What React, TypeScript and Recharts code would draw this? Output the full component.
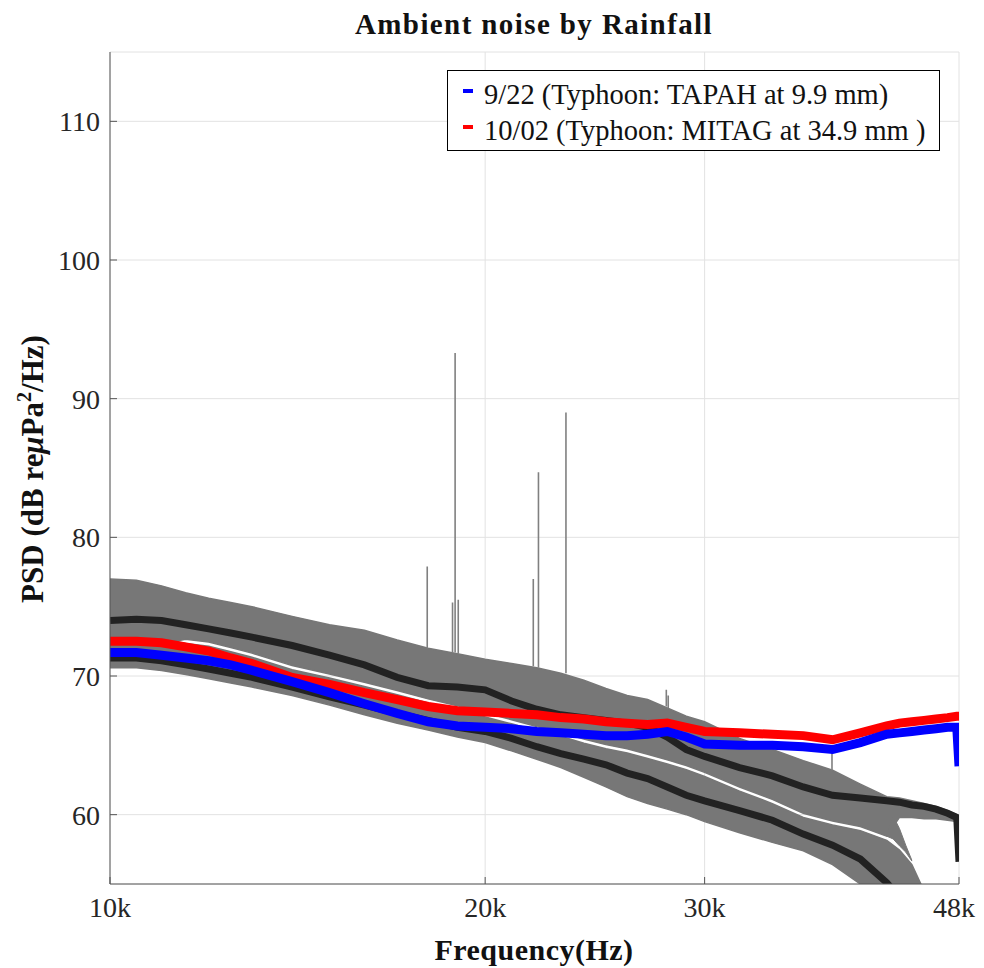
import React from 'react';
import {
  ComposedChart,
  Area,
  Line,
  XAxis,
  YAxis,
  CartesianGrid,
  Legend,
} from 'recharts';

// ---------- data ----------
const freqHz = [
  10000, 10500, 11000, 11500, 12000, 12500, 13000, 14000, 15000, 16000, 17000, 18000, 19000,
  20000, 21000, 22000, 23000, 24000, 25000, 26000, 27000, 28000, 29000, 30000, 32000, 34000,
  36000, 38000, 40000, 42000, 43000, 44000, 45000, 46000, 47000, 47800, 48000,
];

// upper grey band (top / bottom edge) and its mean (black)
const upperTop = [
  77.0, 76.9, 76.5, 76.0, 75.6, 75.3, 75.0, 74.3, 73.7, 73.3, 72.6, 72.0, 71.6, 71.2, 70.9, 70.6,
  70.2, 69.7, 69.1, 68.6, 68.3, 67.7, 67.1, 66.7, 65.5, 64.7, 63.9, 63.2, 62.2, 61.3, 61.2, 61.0,
  60.8, 60.6, 60.3, 60.0, 59.9,
];
const upperBottom = [
  72.3, 72.3, 72.3, 72.65, 72.45, 72.05, 71.65, 70.75, 70.15, 69.55, 68.95, 68.35, 67.85, 67.35,
  66.85, 66.35, 65.95, 65.45, 65.05, 64.75, 64.35, 63.95, 63.55, 63.05, 62.0, 61.1, 60.1, 59.55,
  59.15, 58.45, 59.8, 59.8, 59.7, 59.7, 59.6, 59.5, 59.5,
];
const upperMean = [
  74.0, 74.1, 74.0, 73.7, 73.4, 73.1, 72.8, 72.2, 71.5, 70.8, 69.9, 69.3, 69.2, 69.0, 68.2, 67.6,
  67.2, 67.0, 66.8, 66.6, 66.3, 65.6, 64.7, 64.2, 63.4, 62.8, 62.0, 61.4, 61.2, 61.0, 60.9, 60.7,
  60.6, 60.4, 60.1, 59.8, 56.6,
];

// lower grey band and its mean (black)
const lowerTop = [
  72.8, 72.8, 72.7, 72.35, 72.15, 71.75, 71.35, 70.45, 69.85, 69.25, 68.65, 68.05, 67.55, 67.05,
  66.55, 66.05, 65.65, 65.15, 64.75, 64.45, 64.05, 63.65, 63.25, 62.75, 61.7, 60.8, 59.8, 59.25,
  58.85, 58.15, 57.45, 56.4, 54.5, null, null, null, null,
];
const lowerBottom = [
  70.6, 70.6, 70.4, 70.1, 69.8, 69.5, 69.2, 68.6, 67.9, 67.2, 66.6, 66.1, 65.6, 65.2, 64.6, 64.0,
  63.4, 62.7, 62.0, 61.3, 60.8, 60.4, 60.0, 59.5, 58.7, 58.0, 57.4, 56.4, 55.0, 53.8, 53.2, 52.6,
  52.0, null, null, null, null,
];
const lowerMean = [
  71.3, 71.3, 71.1, 70.8, 70.5, 70.2, 69.9, 69.2, 68.5, 67.9, 67.3, 66.8, 66.3, 66.0, 65.5, 64.9,
  64.4, 64.0, 63.6, 63.0, 62.6, 62.0, 61.4, 61.0, 60.3, 59.6, 58.6, 57.8, 56.8, 55.1, 54.0, null,
  null, null, null, null, null,
];

// 9/22 TAPAH (blue) and 10/02 MITAG (red)
const tapah = [
  71.7, 71.7, 71.5, 71.3, 71.1, 70.8, 70.4, 69.6, 68.8, 68.0, 67.3, 66.7, 66.4, 66.3, 66.2, 66.0,
  65.9, 65.8, 65.7, 65.7, 65.8, 66.0, 65.6, 65.1, 65.0, 65.0, 64.9, 64.7, 65.2, 65.8, 65.9, 66.0,
  66.1, 66.2, 66.3, 66.3, 63.5,
];
const mitag = [
  72.5, 72.5, 72.4, 72.1, 71.8, 71.3, 70.9, 69.9, 69.4, 68.8, 68.3, 67.8, 67.5, 67.4, 67.3, 67.2,
  67.0, 66.9, 66.7, 66.6, 66.5, 66.6, 66.3, 66.0, 65.9, 65.8, 65.7, 65.4, 65.9, 66.4, 66.6, 66.7,
  66.8, 66.9, 67.0, 67.1, 67.1,
];

// small grey tail of the upper band near 42-44 kHz
const tailFreqHz = [42000, 42500, 43000, 43500, 44000];
const tailTop = [58.6, 59.9, 59.0, 57.8, 56.7];
const tailBottom = [58.45, 58.25, 57.75, 57.3, 56.65];

// narrow-band spikes on the upper band
const spikeFreqHz = [17970, 18830, 18920, 19030, 21860, 22070, 23220, 27950, 28050, 37960];
const spikeBase = [72.0, 71.7, 71.7, 71.6, 70.7, 70.6, 70.2, 67.8, 67.7, 63.2];
const spikePeak = [77.9, 75.3, 93.3, 75.5, 77.0, 84.7, 89.0, 69.0, 68.6, 64.5];

const xTicks = [10000, 20000, 30000, 48000];
const xTickLabels = ['10k', '20k', '30k', '48k'];
const yTicks = [60, 70, 80, 90, 100, 110];
const minorGridHz = [40000];

const legendLabels = ['9/22 (Typhoon: TAPAH at 9.9 mm)', '10/02 (Typhoon: MITAG at 34.9 mm )'];
const legendColors = ['#0000ff', '#ff0000'];

const titleText = 'Ambient noise by Rainfall';
const xLabelText = 'Frequency(Hz)';

// ---------- tables for the library ----------
const data = freqHz.map((f, i) => ({
  f,
  upper: [upperBottom[i], upperTop[i]],
  lower: lowerTop[i] == null ? null : [lowerBottom[i], lowerTop[i]],
  upperMean: upperMean[i],
  lowerMean: lowerMean[i],
  tapah: tapah[i],
  mitag: mitag[i],
}));

const tailData = tailFreqHz.map((f, i) => ({ f, tail: [tailBottom[i], tailTop[i]] }));

const spikeData: { f: number; v: number | null }[] = [];
spikeFreqHz.forEach((f, i) => {
  spikeData.push({ f, v: spikeBase[i] });
  spikeData.push({ f, v: spikePeak[i] });
  spikeData.push({ f, v: null });
});

const FONT = '"Liberation Serif", "Times New Roman", serif';
const W = 968;
const H = 960;
const BAND = '#777777';
const AXIS = '#555555';
const GRID = '#e2e2e2';

const XTick = (props: any) => {
  const { x, y, payload } = props;
  const i = xTicks.indexOf(payload?.value);
  const label = i >= 0 ? xTickLabels[i] : '';
  const last = i === xTicks.length - 1;
  return (
    <text
      x={x}
      y={y}
      dy="0.71em"
      dx={last ? -5 : 0}
      textAnchor="middle"
      fill="#262626"
      fontSize={28}
      fontFamily={FONT}
    >
      {label}
    </text>
  );
};

const LegendBox = () => (
  <div
    style={{
      boxSizing: 'border-box',
      width: 493,
      height: 81,
      border: '1.5px solid #000',
      background: '#fff',
      position: 'relative',
      fontFamily: FONT,
      fontSize: 28.5,
      color: '#111',
    }}
  >
    {legendLabels.map((lab, i) => (
      <div
        key={lab}
        style={{
          position: 'absolute',
          left: 0,
          top: 6 + i * 36,
          height: 36,
          display: 'flex',
          alignItems: 'center',
          whiteSpace: 'nowrap',
        }}
      >
        <span
          style={{
            display: 'inline-block',
            width: 10,
            height: 4,
            background: legendColors[i],
            marginLeft: 15,
            marginRight: 11,
            position: 'relative',
            top: -4,
          }}
        />
        <span>{lab}</span>
      </div>
    ))}
  </div>
);

export default function App() {
  return (
    <div style={{ position: 'relative', width: W, height: H, fontFamily: FONT }}>
      <ComposedChart
        width={W}
        height={950}
        data={data}
        margin={{ top: 44, right: 17, bottom: 14, left: 10 }}
        style={{ fontFamily: FONT }}
      >
        <CartesianGrid stroke={GRID} strokeWidth={1} />
        <CartesianGrid
          stroke={GRID}
          strokeWidth={1}
          strokeDasharray="2 3"
          horizontal={false}
          verticalCoordinatesGenerator={(props: any) => {
            const sc = props?.xAxis?.scale;
            return typeof sc === 'function' ? minorGridHz.map((f) => sc(f)) : [];
          }}
        />
        <XAxis
          dataKey="f"
          type="number"
          scale="log"
          domain={[10000, 48000]}
          allowDataOverflow
          ticks={xTicks}
          interval={0}
          height={60}
          tickSize={-7}
          tickMargin={20}
          stroke={AXIS}
          tick={<XTick />}
        />
        <XAxis
          xAxisId="top"
          orientation="top"
          dataKey="f"
          type="number"
          scale="log"
          domain={[10000, 48000]}
          allowDataOverflow
          ticks={xTicks}
          interval={0}
          tickFormatter={() => ''}
          height={0}
          tickSize={-7}
          stroke={AXIS}
        />
        <YAxis
          domain={[55, 115]}
          allowDataOverflow
          ticks={yTicks}
          interval={0}
          width={92}
          tickSize={-7}
          tickMargin={17}
          stroke={AXIS}
          tick={{ fill: '#262626', fontSize: 28, fontFamily: FONT }}
        />
        <YAxis
          yAxisId="right"
          orientation="right"
          domain={[55, 115]}
          allowDataOverflow
          ticks={yTicks}
          interval={0}
          width={0}
          tickSize={-7}
          tickFormatter={() => ''}
          stroke={AXIS}
        />

        <Area
          dataKey="upper"
          type="linear"
          fill={BAND}
          fillOpacity={1}
          stroke={BAND}
          strokeWidth={1.5}
          isAnimationActive={false}
          legendType="none"
          activeDot={false}
        />
        <Area
          dataKey="lower"
          type="linear"
          fill={BAND}
          fillOpacity={1}
          stroke={BAND}
          strokeWidth={1.5}
          isAnimationActive={false}
          legendType="none"
          activeDot={false}
        />
        <Area
          data={tailData}
          dataKey="tail"
          type="linear"
          fill={BAND}
          fillOpacity={1}
          stroke={BAND}
          strokeWidth={1}
          isAnimationActive={false}
          legendType="none"
          activeDot={false}
        />
        <Line
          data={spikeData}
          dataKey="v"
          type="linear"
          stroke="#808080"
          strokeWidth={1.6}
          dot={false}
          activeDot={false}
          connectNulls={false}
          isAnimationActive={false}
          legendType="none"
        />
        <Line
          dataKey="upperMean"
          type="linear"
          stroke="#222222"
          strokeWidth={7}
          dot={false}
          activeDot={false}
          isAnimationActive={false}
          legendType="none"
        />
        <Line
          dataKey="lowerMean"
          type="linear"
          stroke="#222222"
          strokeWidth={7}
          dot={false}
          activeDot={false}
          isAnimationActive={false}
          legendType="none"
        />
        <Line
          dataKey="mitag"
          type="linear"
          stroke="#ff0000"
          strokeWidth={9}
          dot={false}
          activeDot={false}
          isAnimationActive={false}
        />
        <Line
          dataKey="tapah"
          type="linear"
          stroke="#0000ff"
          strokeWidth={9}
          dot={false}
          activeDot={false}
          isAnimationActive={false}
        />
        <Legend
          layout="horizontal"
          verticalAlign="middle"
          align="center"
          wrapperStyle={{ left: 439, top: 62, width: 493, height: 81 }}
          content={() => <LegendBox />}
        />
      </ComposedChart>

      <svg
        width={W}
        height={H}
        style={{ position: 'absolute', left: 0, top: 0, pointerEvents: 'none' }}
      >
        <text
          x={526}
          y={26}
          textAnchor="middle"
          fontFamily={FONT}
          fontWeight="bold"
          fontSize={29}
          letterSpacing={1.4}
          fill="#111"
        >
          {titleText}
        </text>
        <text
          x={526}
          y={952}
          textAnchor="middle"
          fontFamily={FONT}
          fontWeight="bold"
          fontSize={30}
          letterSpacing={0.5}
          fill="#111"
        >
          {xLabelText}
        </text>
        <text
          transform="translate(35,461) rotate(-90)"
          textAnchor="middle"
          fontFamily={FONT}
          fontWeight="bold"
          fontSize={31}
          fill="#111"
        >
          <tspan>PSD (dB re</tspan>
          <tspan fontStyle="italic">μ</tspan>
          <tspan>Pa</tspan>
          <tspan dy={-12} fontSize={20}>2</tspan>
          <tspan dy={12}>/Hz)</tspan>
        </text>
      </svg>
    </div>
  );
}
